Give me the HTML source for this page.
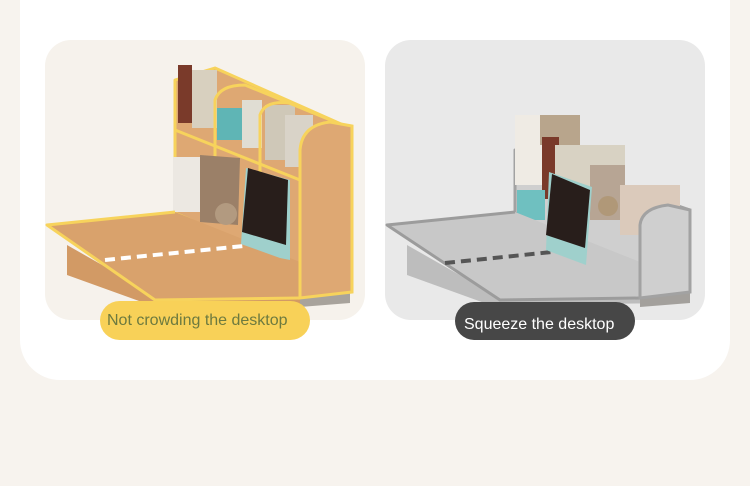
<!DOCTYPE html>
<html><head><meta charset="utf-8"><style>
body{margin:0;width:750px;height:481px;background:#f7f3ee;overflow:hidden;font-family:"Liberation Sans",sans-serif}
</style></head><body>
<svg width="750" height="481" viewBox="0 0 750 481" xmlns="http://www.w3.org/2000/svg">
<rect width="750" height="481" fill="#f7f3ee"/>
<path d="M20 0H730V340A40 40 0 0 1 690 380H60A40 40 0 0 1 20 340Z" fill="#fff"/>
<!-- left panel -->
<rect x="45" y="40" width="320" height="280" rx="26" fill="#f6f2ec"/>
<polygon points="67,245 67,275 150,305 350,303 350,290 160,298" fill="#d29a65"/>
<polygon points="300,295 350,292 350,303 300,307" fill="#a8a39c"/>
<!-- cabinet back -->
<polygon points="175,80 215,68 350,128 350,290 175,213" fill="#dea873" stroke="#f7d35c" stroke-width="3" stroke-linejoin="round"/>
<rect x="178" y="65" width="14" height="58" fill="#7a3a2a"/>
<rect x="192" y="70" width="25" height="58" fill="#d8d0bf"/>
<rect x="217" y="108" width="25" height="32" fill="#5fb5b5"/>
<rect x="242" y="100" width="20" height="48" fill="#e0ddd3"/>
<rect x="265" y="105" width="30" height="55" fill="#cfc8b8"/>
<rect x="285" y="115" width="28" height="52" fill="#d9d3c8"/>
<polyline points="175,130 300,180" stroke="#f7d35c" stroke-width="3" fill="none"/>
<path d="M215 160V100Q220 85 245 85L350 128" stroke="#f7d35c" stroke-width="3" fill="none"/>
<path d="M260 185V115Q265 100 290 103" stroke="#f7d35c" stroke-width="3" fill="none"/>
<rect x="173" y="157" width="30" height="55" fill="#ece8e2"/>
<polygon points="200,155 240,158 238,225 200,222" fill="#9b8068"/>
<circle cx="226" cy="214" r="11" fill="#b29a80"/>
<!-- desk top -->
<polygon points="47,225 175,212 300,262 300,298 155,300" fill="#d9a26c"/>
<polyline points="175,212 47,225 155,300 300,298" fill="none" stroke="#f7d35c" stroke-width="3" stroke-linejoin="round"/>
<line x1="105" y1="260" x2="244" y2="246" stroke="#fff" stroke-width="4" stroke-dasharray="10,6"/>
<polygon points="246,168 290,180 290,260 280,258 241,244" fill="#9fd0cc"/>
<polygon points="248,168 288,180 286,245 242,232" fill="#281e1b"/>
<!-- right unit -->
<path d="M300 298V150Q302 125 330 122L352 126V292Z" fill="#dea873" stroke="#f7d35c" stroke-width="3"/>
<rect x="100" y="301" width="210" height="39" rx="19.5" fill="#f8d158"/>
<text x="107" y="325" font-size="16" fill="#6d7a3f">Not crowding the desktop</text>

<!-- right panel -->
<rect x="385" y="40" width="320" height="280" rx="26" fill="#e9e9e9"/>
<polygon points="407,245 407,275 490,305 690,303 690,290 500,298" fill="#bdbdbd"/>
<polygon points="640,295 690,292 690,303 640,307" fill="#a3a09c"/>
<polygon points="515,150 690,210 690,292 515,213" fill="#cfcfcf" stroke="#a2a2a2" stroke-width="3" stroke-linejoin="round"/>
<rect x="515" y="115" width="30" height="70" fill="#efebe4"/>
<rect x="540" y="115" width="40" height="30" fill="#b8a58c"/>
<rect x="542" y="137" width="17" height="62" fill="#7a3a2a"/>
<rect x="555" y="145" width="70" height="50" fill="#d8d2c3"/>
<rect x="590" y="165" width="35" height="55" fill="#b7a594"/>
<circle cx="608" cy="206" r="10" fill="#b09878"/>
<rect x="620" y="185" width="60" height="50" fill="#dbcabb"/>
<rect x="517" y="190" width="28" height="30" fill="#6fc0c0"/>
<polygon points="387,225 515,212 640,262 640,298 500,300" fill="#c8c8c8"/>
<polyline points="515,212 387,225 500,300 640,298" fill="none" stroke="#9c9c9c" stroke-width="3" stroke-linejoin="round"/>
<line x1="445" y1="263" x2="552" y2="252" stroke="#555" stroke-width="4" stroke-dasharray="10,6"/>
<polygon points="549,172 592,187 586,265 546,250" fill="#9fd0cc"/>
<polygon points="552,174 590,190 585,248 546,235" fill="#281e1b"/>
<path d="M640 298V225Q642 208 668 205L690 210V292Z" fill="#cfcfcf" stroke="#a2a2a2" stroke-width="3"/>
<rect x="455" y="302" width="180" height="38" rx="19" fill="#474747"/>
<text x="464" y="329" font-size="16" fill="#fff">Squeeze the desktop</text>
</svg>
</body></html>
